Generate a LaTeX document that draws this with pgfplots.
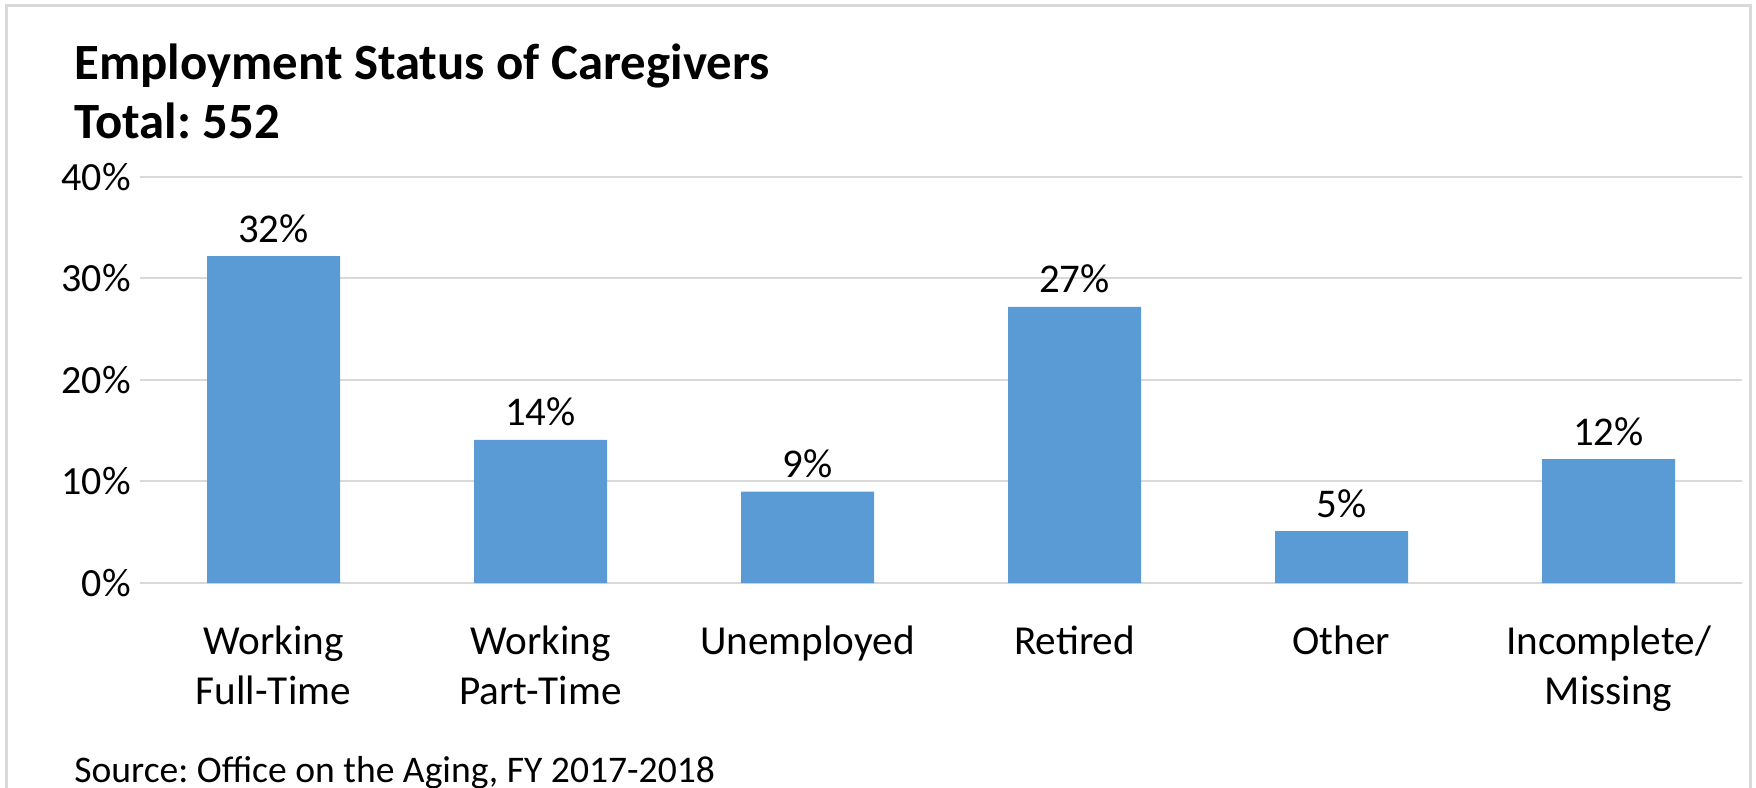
\documentclass[border=0pt]{standalone}
\usepackage{fontspec}
\setmainfont{Carlito}
\usepackage{pgfplots}
\pgfplotsset{compat=1.18}
\definecolor{barblue}{HTML}{5B9BD5}
\definecolor{gridgray}{HTML}{D9D9D9}
\frenchspacing
\begin{document}
\begin{tikzpicture}
\path[use as bounding box] (0,0) rectangle (878bp,394bp);
\draw[gridgray, line width=1.5bp] (3bp,-1bp) -- (3bp,391bp) -- (875bp,391bp) -- (875bp,-1bp);
\node[anchor=base west, inner sep=0, font=\fontsize{25.4bp}{29bp}\selectfont\bfseries] at (37bp,354bp) {Employment Status of Caregivers};
\node[anchor=base west, inner sep=0, font=\fontsize{25.4bp}{29bp}\selectfont\bfseries] at (37bp,324.5bp) {Total: 552};
\node[anchor=base west, inner sep=0, font=\fontsize{18.8bp}{22bp}\selectfont] at (37bp,3bp) {Source: Office on the Aging, FY 2017-2018};
\begin{axis}[
 at={(70bp,102.5bp)}, anchor=south west,
 scale only axis, width=801bp, height=203bp,
 ybar, bar width=66.5bp,
 xmin=-0.5, xmax=5.5, ymin=0, ymax=40,
 xtick={0,...,5},
 xticklabels={{Working\\Full-Time},{Working\\Part-Time},Unemployed,Retired,Other,{Incomplete/\\Missing}},
 ytick={0,10,20,30,40},
 yticklabel={\pgfmathprintnumber{\tick}\%},
 /pgf/number format/assume math mode=true,
 ymajorgrids, grid style={gridgray, line width=1bp},
 axis line style={draw=none}, major tick length=0,
 tick label style={font=\fontsize{20bp}{25bp}\selectfont, inner sep=0},
 yticklabel style={xshift=-4.5bp},
 xticklabel style={align=center, anchor=north, yshift=-21bp, font=\fontsize{20.6bp}{25bp}\selectfont},
 nodes near coords={\pgfmathprintnumber[fixed,precision=0]{\pgfplotspointmeta}\%},
 nodes near coords style={font=\fontsize{20.4bp}{25bp}\selectfont, anchor=base, inner sep=0, yshift=7bp, black},
 clip=false,
]
\addplot[fill=barblue, draw=none] coordinates {(0,32.2) (1,14.1) (2,9.0) (3,27.2) (4,5.1) (5,12.2)};
\end{axis}
\end{tikzpicture}
\end{document}
